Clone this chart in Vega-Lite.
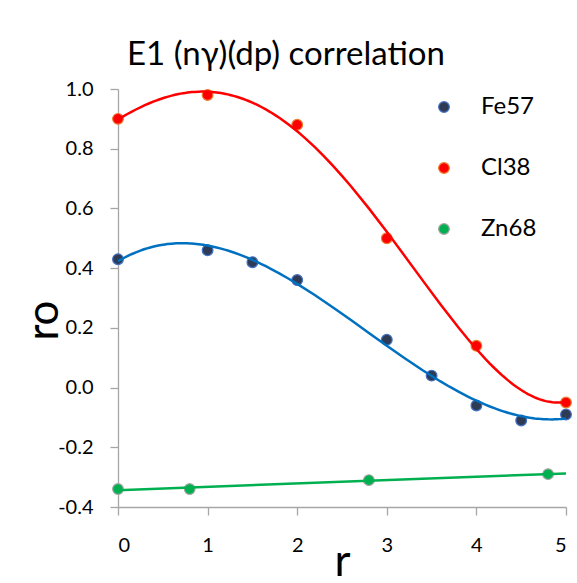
{
  "$schema": "https://vega.github.io/schema/vega-lite/v6.json",
  "autosize": "none",
  "width": 448,
  "height": 418,
  "padding": {"left": 118, "top": 89, "right": 11, "bottom": 76},
  "background": "white",
  "config": {
    "font": "Lato",
    "view": {"stroke": null},
    "axis": {"grid": false, "domainColor": "#A6A6A6", "tickColor": "#A6A6A6", "domainWidth": 1.3, "tickWidth": 1.3, "tickSize": 8, "labelColor": "#000000", "titleColor": "#000000", "labelFont": "Lato", "titleFont": "Lato", "labelFontSize": 20, "titleFontSize": 44, "titleFontWeight": "normal"}
  },
  "title": {"text": "E1 (nγ)(dp) correlation", "font": "Lato", "fontSize": 33, "fontWeight": "normal", "color": "#000000", "anchor": "middle", "dx": -56, "dy": 44, "baseline": "alphabetic", "offset": 25},
  "datasets": {
    "pts": [
      {"s": "Fe57", "r": 0, "ro": 0.43},
      {"s": "Fe57", "r": 1, "ro": 0.46},
      {"s": "Fe57", "r": 1.5, "ro": 0.42},
      {"s": "Fe57", "r": 2, "ro": 0.36},
      {"s": "Fe57", "r": 3, "ro": 0.16},
      {"s": "Fe57", "r": 3.5, "ro": 0.04},
      {"s": "Fe57", "r": 4, "ro": -0.06},
      {"s": "Fe57", "r": 4.5, "ro": -0.11},
      {"s": "Fe57", "r": 5, "ro": -0.09},
      {"s": "Cl38", "r": 0, "ro": 0.90},
      {"s": "Cl38", "r": 1, "ro": 0.98},
      {"s": "Cl38", "r": 2, "ro": 0.88},
      {"s": "Cl38", "r": 3, "ro": 0.50},
      {"s": "Cl38", "r": 4, "ro": 0.14},
      {"s": "Cl38", "r": 5, "ro": -0.05},
      {"s": "Zn68", "r": 0, "ro": -0.34},
      {"s": "Zn68", "r": 0.8, "ro": -0.34},
      {"s": "Zn68", "r": 2.8, "ro": -0.31},
      {"s": "Zn68", "r": 4.8, "ro": -0.29}
    ]
  },
  "data": {"name": "pts"},
  "layer": [
    {
      "mark": {"type": "point", "filled": true, "opacity": 1, "size": 115, "strokeWidth": 1.2, "shape": "circle"},
      "encoding": {
        "x": {"field": "r", "type": "quantitative", "scale": {"domain": [0, 5], "nice": false, "zero": false}, "axis": {"values": [0, 1, 2, 3, 4, 5], "format": "d", "title": "r", "labelPadding": 20, "titlePadding": 0, "titleBaseline": "alphabetic", "titleY": 68}},
        "y": {"field": "ro", "type": "quantitative", "scale": {"domain": [-0.4, 1.0], "nice": false, "zero": false}, "axis": {"values": [-0.4, -0.2, 0, 0.2, 0.4, 0.6, 0.8, 1.0], "labelExpr": "replace(format(datum.value, '.1f'), '−', '-')", "labelPadding": 17, "title": "ro", "titleBaseline": "alphabetic", "titleX": -61, "titleY": 231, "titleAngle": -90}},
        "fill": {"field": "s", "type": "nominal", "scale": {"domain": ["Fe57", "Cl38", "Zn68"], "range": ["#2F3B55", "#FF0000", "#00B050"]},
          "legend": {"title": null, "orient": "none", "legendX": 314, "legendY": 6, "padding": 0, "labelFont": "Lato", "labelFontSize": 24, "labelColor": "#000000", "labelOffset": 25, "rowPadding": 37, "symbolSize": 115, "symbolStrokeWidth": 1.2}},
        "stroke": {"field": "s", "type": "nominal", "scale": {"domain": ["Fe57", "Cl38", "Zn68"], "range": ["#4472C4", "#ED7D31", "#A5A5A5"]}}
      }
    },
    {
      "transform": [
        {"filter": "datum.s === 'Fe57'"},
        {"regression": "ro", "on": "r", "method": "poly", "order": 3, "extent": [0, 5]}
      ],
      "mark": {"type": "line", "strokeWidth": 2.5, "color": "#0070C0"},
      "encoding": {
        "x": {"field": "r", "type": "quantitative"},
        "y": {"field": "ro", "type": "quantitative"}
      }
    },
    {
      "transform": [
        {"filter": "datum.s === 'Cl38'"},
        {"regression": "ro", "on": "r", "method": "poly", "order": 4, "extent": [0, 5]}
      ],
      "mark": {"type": "line", "strokeWidth": 2.5, "color": "#FF0000"},
      "encoding": {
        "x": {"field": "r", "type": "quantitative"},
        "y": {"field": "ro", "type": "quantitative"}
      }
    },
    {
      "transform": [
        {"filter": "datum.s === 'Zn68'"},
        {"regression": "ro", "on": "r", "method": "linear", "extent": [0, 5]}
      ],
      "mark": {"type": "line", "strokeWidth": 2.5, "color": "#00B050"},
      "encoding": {
        "x": {"field": "r", "type": "quantitative"},
        "y": {"field": "ro", "type": "quantitative"}
      }
    }
  ]
}
